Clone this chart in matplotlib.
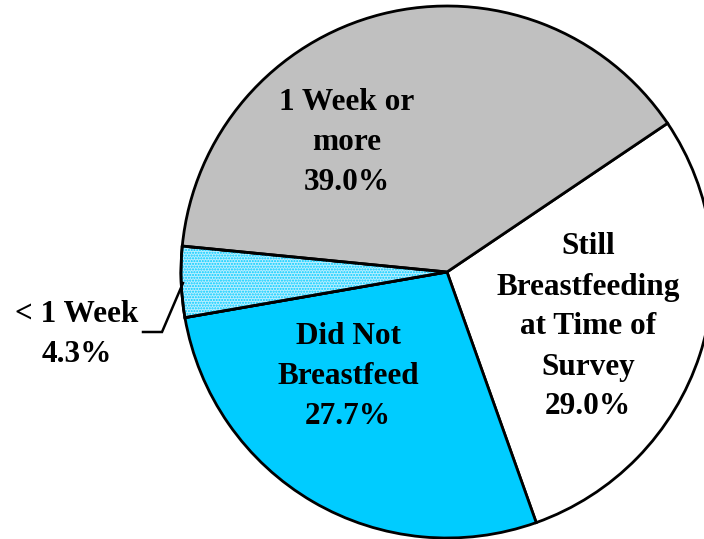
import matplotlib.pyplot as plt

# breastfeeding duration shares (%)
labels = ["Still\nBreastfeeding\nat Time of\nSurvey", "Did Not\nBreastfeed",
          "< 1 Week", "1 Week or\nmore"]
shares = [29.0, 27.7, 4.3, 39.0]
colors = ["#ffffff", "#00ccff", "#b8eeff", "#c0c0c0"]

W, H = 704, 539
fig = plt.figure(figsize=(W / 100, H / 100), dpi=100)
ax = fig.add_axes([0, 0, 1, 1])

cx, cy, r = 447, H - 272, 266

wedges, _ = ax.pie(shares, colors=colors, startangle=34, counterclock=False,
                   center=(cx, cy), radius=r, frame=True,
                   wedgeprops=dict(edgecolor="black", linewidth=2.0))

# dotted fill on the small slice
w = wedges[2]
ax.add_patch(plt.matplotlib.patches.Wedge((cx, cy), r, w.theta1, w.theta2,
                                          facecolor="none", edgecolor="#00ccff",
                                          hatch="......", linewidth=0))
ax.add_patch(plt.matplotlib.patches.Wedge((cx, cy), r, w.theta1, w.theta2,
                                          facecolor="none", edgecolor="black",
                                          linewidth=2.0))

font = dict(family="Liberation Serif", fontweight="bold", fontsize=22.5,
            ha="center", va="center", linespacing=1.5)

ax.text(347, H - 143, f"{labels[3]}\n{shares[3]:.1f}%", **font)
ax.text(588, H - 327, f"{labels[0]}\n{shares[0]:.1f}%", **font)
ax.text(348, H - 377, f"{labels[1]}\n{shares[1]:.1f}%", **font)
ax.text(77, H - 335, f"{labels[2]}\n{shares[2]:.1f}%", **font)

# leader line for the small slice
ax.plot([143, 162, 183], [H - 332, H - 332, H - 283], color="black",
        linewidth=1.8, solid_joinstyle="miter")

ax.set_xlim(0, W)
ax.set_ylim(0, H)
ax.axis("off")

fig.savefig("out.png", dpi=100)
